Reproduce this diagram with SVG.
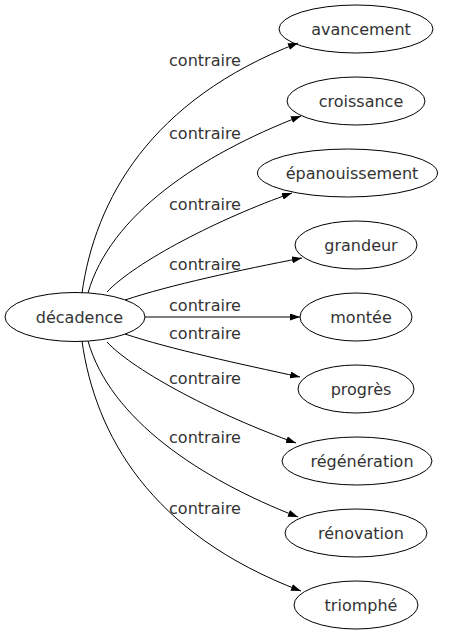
<svg xmlns="http://www.w3.org/2000/svg" width="459" height="635" viewBox="0 0 459 635">
<defs>
<style>
.n ellipse{fill:none;stroke:#000;stroke-width:1}
text{font-family:"DejaVu Sans",sans-serif;font-size:16px;fill:#333;text-anchor:middle}
.e path{fill:none;stroke:#000;stroke-width:1;marker-end:url(#ah)}
</style>
<marker id="ah" viewBox="0 0 10 7" refX="10" refY="3.5" markerWidth="10" markerHeight="7" markerUnits="userSpaceOnUse" orient="auto">
<path d="M0,0 L10,3.5 L0,7 z" fill="#000"/>
</marker>
</defs>
<rect width="459" height="635" fill="#fff"/>
<g class="e" id="edges">
<path d="M82,293 C95,200 150,100 298,43"/>
<path d="M88,293 C110,215 200,155 301,116"/>
<path d="M107,292 C135,262 220,218 292,193"/>
<path d="M125,300 C170,285 240,270 302,258"/>
<path d="M145,317 L300,317"/>
<path d="M125,334 C170,349 240,364 300,377"/>
<path d="M107,342 C135,372 220,416 296,443"/>
<path d="M88,341 C110,419 200,479 298,517"/>
<path d="M82,341 C95,434 150,534 301,591"/>
</g>
<g id="edge-labels">
<text x="205" y="66">contraire</text>
<text x="205" y="139">contraire</text>
<text x="205" y="210">contraire</text>
<text x="205" y="270">contraire</text>
<text x="205" y="311">contraire</text>
<text x="205" y="339">contraire</text>
<text x="205" y="384">contraire</text>
<text x="205" y="443">contraire</text>
<text x="205" y="514">contraire</text>
</g>
<g class="n" id="decadence"><ellipse cx="75" cy="317" rx="70" ry="24.5"/><text x="79.5" y="322.5">décadence</text></g>
<g class="n" id="avancement"><ellipse cx="356" cy="29" rx="77" ry="24"/><text x="361" y="35">avancement</text></g>
<g class="n" id="croissance"><ellipse cx="356" cy="101" rx="69" ry="24"/><text x="361" y="107">croissance</text></g>
<g class="n" id="epanouissement"><ellipse cx="347.5" cy="173" rx="90" ry="24"/><text x="352" y="179">épanouissement</text></g>
<g class="n" id="grandeur"><ellipse cx="356" cy="245" rx="61" ry="24"/><text x="361" y="251">grandeur</text></g>
<g class="n" id="montee"><ellipse cx="356" cy="317" rx="56" ry="24"/><text x="361" y="323">montée</text></g>
<g class="n" id="progres"><ellipse cx="356" cy="389" rx="58" ry="24"/><text x="361" y="395">progrès</text></g>
<g class="n" id="regeneration"><ellipse cx="357" cy="461" rx="75" ry="24"/><text x="362" y="467">régénération</text></g>
<g class="n" id="renovation"><ellipse cx="356" cy="533" rx="71" ry="24"/><text x="361" y="539">rénovation</text></g>
<g class="n" id="triomphe"><ellipse cx="356" cy="605" rx="62" ry="24"/><text x="361" y="611">triomphé</text></g>
</svg>
